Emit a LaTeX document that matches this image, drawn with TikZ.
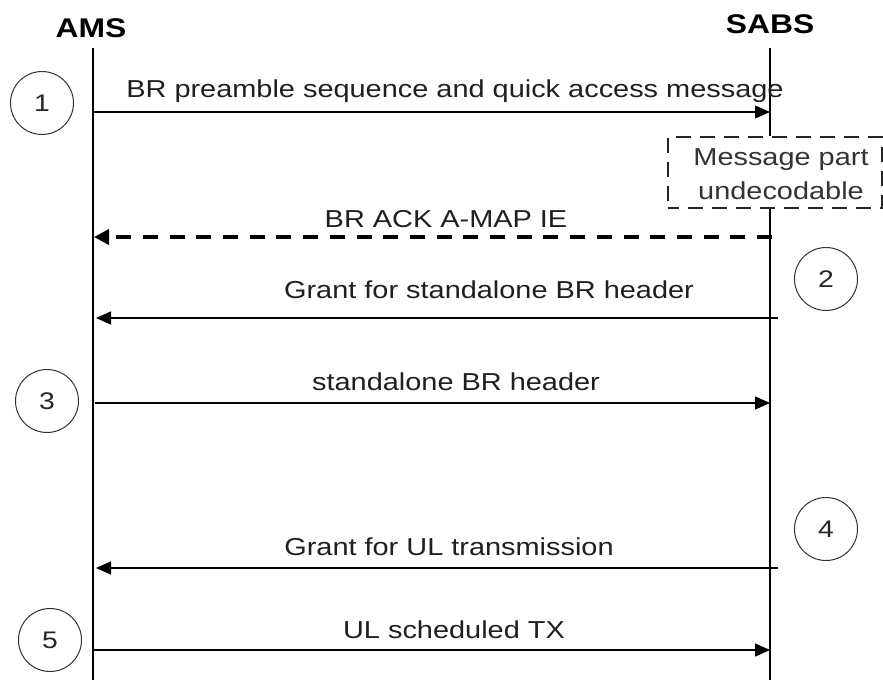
\documentclass[tikz,border=0pt]{standalone}
\usepackage{fontspec}
\setmainfont[FakeStretch=1.18]{Liberation Sans}
\usetikzlibrary{arrows.meta}
\tikzset{
  lifeline/.style={line width=1.5pt, black},
  msg/.style={line width=1.4pt, -{Triangle[length=15pt,width=13pt]}},
  dmsg/.style={line width=3.6pt, dash pattern=on 15pt off 11.7pt, -{Triangle[length=15pt,width=15pt]}},
  lbl/.style={anchor=base, font=\fontsize{24.5}{28}\selectfont, text=black!88, inner sep=0pt},
  actor/.style={anchor=base, font=\fontsize{27}{30}\selectfont\bfseries, inner sep=0pt},
  stepcircle/.style={circle, draw=black!80, line width=1pt, minimum size=63pt, inner sep=0pt, font=\fontsize{24}{28}\selectfont, text=black!85},
  notebox/.style={draw=black!85, line width=1.6pt, dash pattern=on 15pt off 9pt, dash phase=4pt, minimum width=214pt, minimum height=71pt, inner sep=0pt},
  notetext/.style={anchor=base, font=\fontsize{24.5}{28}\selectfont, text=black!80, inner sep=0pt}
}
\begin{document}
\begin{tikzpicture}[x=1pt,y=-1pt]
\useasboundingbox (0,0) rectangle (883,680);
% actors
\node[actor] (ams) at (91,37) {AMS};
\node[actor] (sabs) at (770,33) {SABS};
% lifeline coordinates
\coordinate (amsTop) at (93,48);
\coordinate (amsBot) at (93,680);
\coordinate (sabsTop) at (770,48);
\coordinate (sabsBot) at (770,680);
% note box
\node[notebox] (note) at (775,172.5) {};
\node[notetext] (n1) at (781,165) {Message part};
\node[notetext] (n2) at (781,199) {undecodable};
\draw[lifeline] (amsTop) -- (amsBot);
\draw[lifeline] (sabsTop) -- (note.north -| sabsTop);
\draw[lifeline] (note.south -| sabsTop) -- (sabsBot);
% message end points
\coordinate (m1a) at (93,112);   \coordinate (m1b) at (770,112);
\coordinate (m2a) at (94,237);   \coordinate (m2b) at (772,237);
\coordinate (m3a) at (96,318);   \coordinate (m3b) at (778,318);
\coordinate (m4a) at (95,403);   \coordinate (m4b) at (770,403);
\coordinate (m5a) at (96,568);   \coordinate (m5b) at (778,568);
\coordinate (m6a) at (93,650);   \coordinate (m6b) at (770,650);
% messages
\draw[msg] (m1a) -- (m1b);
\node[lbl] (t1) at (455,97) {BR preamble sequence and quick access message};
\draw[dmsg] (m2b) -- (m2a);
\node[lbl] (t2) at (446,227) {BR ACK A-MAP IE};
\draw[msg] (m3b) -- (m3a);
\node[lbl] (t3) at (489,298) {Grant for standalone BR header};
\draw[msg] (m4a) -- (m4b);
\node[lbl] (t4) at (456,390) {standalone BR header};
\draw[msg] (m5b) -- (m5a);
\node[lbl] (t5) at (449,555) {Grant for UL transmission};
\draw[msg] (m6a) -- (m6b);
\node[lbl] (t6) at (454,638) {UL scheduled TX};
% step circles
\node[stepcircle] (c1) at (42,103) {1};
\node[stepcircle] (c2) at (826,279) {2};
\node[stepcircle] (c3) at (47,401) {3};
\node[stepcircle] (c4) at (826,529) {4};
\node[stepcircle] (c5) at (50,640) {5};
\end{tikzpicture}
\end{document}
